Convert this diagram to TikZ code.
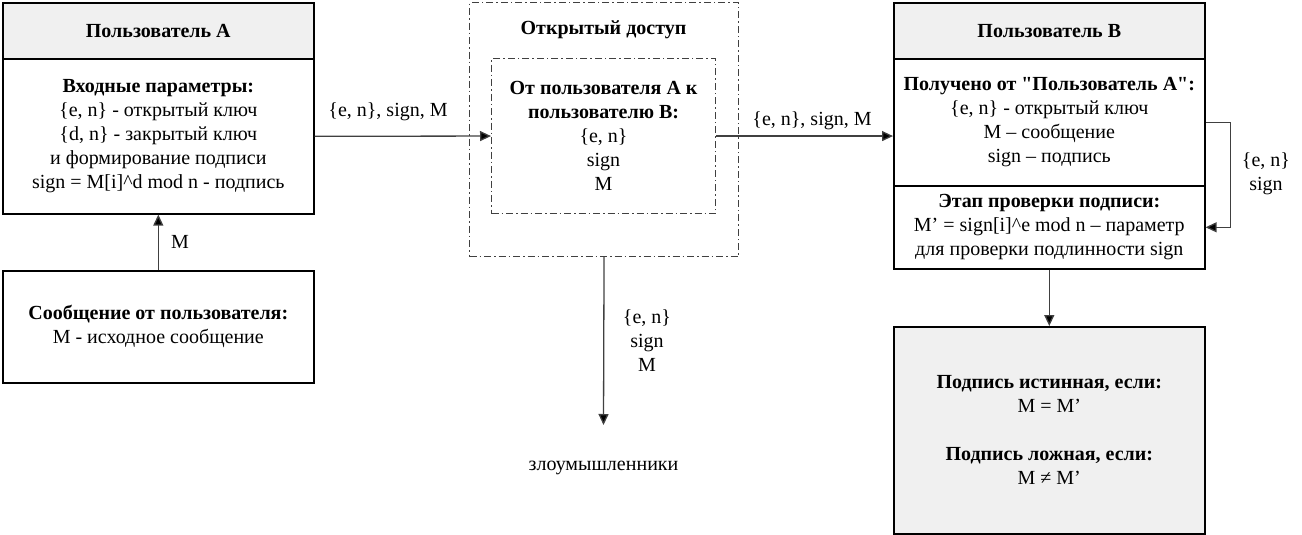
\documentclass[tikz,border=0pt]{standalone}
\usepackage{fontspec}
\setmainfont{Liberation Serif}
\usetikzlibrary{arrows.meta}

\definecolor{headgray}{HTML}{F0F0F0}
\definecolor{linegray}{HTML}{404040}

\begin{document}
\begin{tikzpicture}[
            x = 1pt, y = -1pt, % one unit = one pixel of the scheme
            > = {Triangle[length = 11pt, width = 10pt, fill = black]}, % arrow head style
            semithick, % line style
            font = \fontsize{20}{24}\selectfont
        ]

        \tikzstyle{block}=[
            draw = black,
            line width = 1.6pt,
            fill = white,
            anchor = north west,
            align = center,
            inner sep = 0pt,
            minimum width = 311pt
        ]
        \tikzstyle{head}=[fill = headgray]
        \tikzstyle{open}=[
            draw = linegray,
            line width = 1.1pt,
            dash pattern = on 7pt off 3pt on 1.5pt off 3pt,
            anchor = north west,
            align = center,
            inner sep = 0pt
        ]
        \tikzstyle{flow}=[->, draw = linegray, line width = 1.3pt]

        \useasboundingbox (0,0) rectangle (1302,535);

        % user A
        \node[block, head, minimum height = 56pt] (ha) at (2,2) {\textbf{Пользователь А}};
        \node[block, minimum height = 155pt] (pa) at (2,58) {\textbf{Входные параметры:}\\
            \{e, n\} - открытый ключ\\
            \{d, n\} - закрытый ключ\\
            и формирование подписи\\
            sign = M[i]\^{}d mod n - подпись};
        \node[block, minimum height = 112pt] (msg) at (2,270) {\textbf{Сообщение от пользователя:}\\
            M - исходное сообщение};

        % open channel
        \node[open, minimum width = 269pt, minimum height = 254pt] (open) at (469,2) {};
        \node (ot) at (603.5,30) {\textbf{Открытый доступ}};
        \node[open, minimum width = 224pt, minimum height = 155pt] (ab) at (491,58) {\textbf{От пользователя А к}\\
            \textbf{пользователю В:}\\
            \{e, n\}\\
            sign\\
            M};
        \coordinate (ev) at (603.5,425);
        \node (zl) at (603.5,468) {злоумышленники};

        % user B
        \node[block, head, minimum height = 56pt] (hb) at (893,2) {\textbf{Пользователь В}};
        \node[block, minimum height = 127pt] (pb) at (893,58) {\textbf{Получено от \textquotedbl Пользователь А\textquotedbl:}\\
            \{e, n\} - открытый ключ\\
            M – сообщение\\
            sign – подпись};
        \node[block, minimum height = 83pt] (vb) at (893,185) {\textbf{Этап проверки подписи:}\\
            M’ = sign[i]\^{}e mod n – параметр\\
            для проверки подлинности sign};
        \node[block, head, minimum height = 207pt] (res) at (893,326) {\textbf{Подпись истинная, если:}\\
            M = M’\\[24pt]
            \textbf{Подпись ложная, если:}\\
            M ≠ M’};

        % connectors
        \draw[flow] (msg.north) -- (pa.south);
        \node at (180,242) {M};

        \draw[flow] (pa.east) -- (ab.west);
        \node at (388,112) {\{e, n\}, sign, M};

        \draw[flow] (ab.east) -- (ab.east -| pb.west);
        \node at (812,121) {\{e, n\}, sign, M};

        \draw[flow] (pb.east) -- ++(25,0) |- (vb.east);
        \node[align = center] at (1266,174) {\{e, n\}\\ sign};

        \draw[flow] (vb.south) -- (res.north);

        \draw[flow] (open.south) -- (ev);
        \node[align = center] at (647,341) {\{e, n\}\\ sign\\ M};
    \end{tikzpicture}
\end{document}
